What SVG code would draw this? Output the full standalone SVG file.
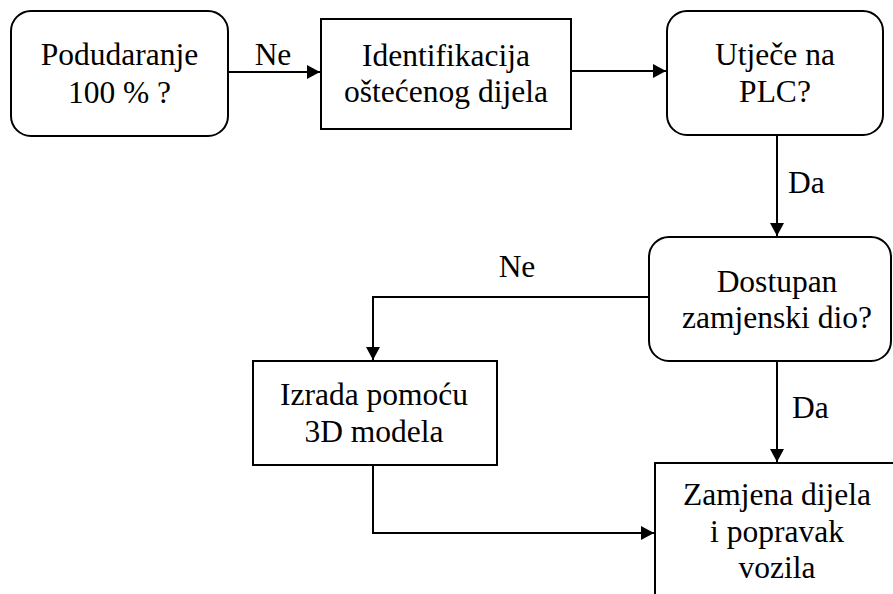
<svg xmlns="http://www.w3.org/2000/svg" width="893" height="594" viewBox="0 0 893 594">
<defs>
<style>
.box{fill:#fff;stroke:#000;stroke-width:2}
.c{fill:none;stroke:#000;stroke-width:2}
text{font-family:"Times New Roman",Times,Tinos,"Nimbus Roman","Nimbus Roman No9 L",FreeSerif,"Liberation Serif","DejaVu Serif","Noto Serif",serif;font-size:31.5px;fill:#000}
</style>
<marker id="arr" markerUnits="userSpaceOnUse" markerWidth="14" markerHeight="14" refX="13" refY="7" orient="auto">
<path d="M0,0 L13,7 L0,14 z" fill="#000"/>
</marker>
</defs>
<rect width="893" height="594" fill="#fff"/>
<g id="connectors">
<path class="c" d="M228,72 H320" marker-end="url(#arr)"/>
<text text-anchor="middle" x="273" y="65">Ne</text>
<path class="c" d="M571,71 H666" marker-end="url(#arr)"/>
<path class="c" d="M777,135 V236" marker-end="url(#arr)"/>
<text x="788" y="193">Da</text>
<path class="c" d="M649,297 H373 V360" marker-end="url(#arr)"/>
<text text-anchor="middle" x="517" y="277">Ne</text>
<path class="c" d="M777,361 V462" marker-end="url(#arr)"/>
<text x="792" y="418">Da</text>
<path class="c" d="M373,465 V533 H654" marker-end="url(#arr)"/>
</g>
<g id="n1" text-anchor="middle">
<rect class="box" x="11" y="11" width="217" height="125" rx="20"/>
<text x="119.5" y="65">Podudaranje</text>
<text x="119.5" y="103">100 % ?</text>
</g>
<g id="n2" text-anchor="middle">
<rect class="box" x="321" y="19" width="250" height="110"/>
<text x="446" y="66">Identifikacija</text>
<text x="446" y="102">oštećenog dijela</text>
</g>
<g id="n3" text-anchor="middle">
<rect class="box" x="667" y="11" width="216" height="124" rx="20"/>
<text x="775" y="65">Utječe na</text>
<text x="775" y="102">PLC?</text>
</g>
<g id="n4" text-anchor="middle">
<rect class="box" x="649" y="237" width="242" height="124" rx="20"/>
<text x="777" y="292">Dostupan</text>
<text x="777" y="328">zamjenski dio?</text>
</g>
<g id="n5" text-anchor="middle">
<rect class="box" x="253" y="361" width="244" height="104"/>
<text x="374" y="405">Izrada pomoću</text>
<text x="374" y="442">3D modela</text>
</g>
<g id="n6" text-anchor="middle">
<rect class="box" x="655" y="463" width="260" height="160"/>
<text x="777" y="505">Zamjena dijela</text>
<text x="777" y="542">i popravak</text>
<text x="777" y="578">vozila</text>
</g>
</svg>
